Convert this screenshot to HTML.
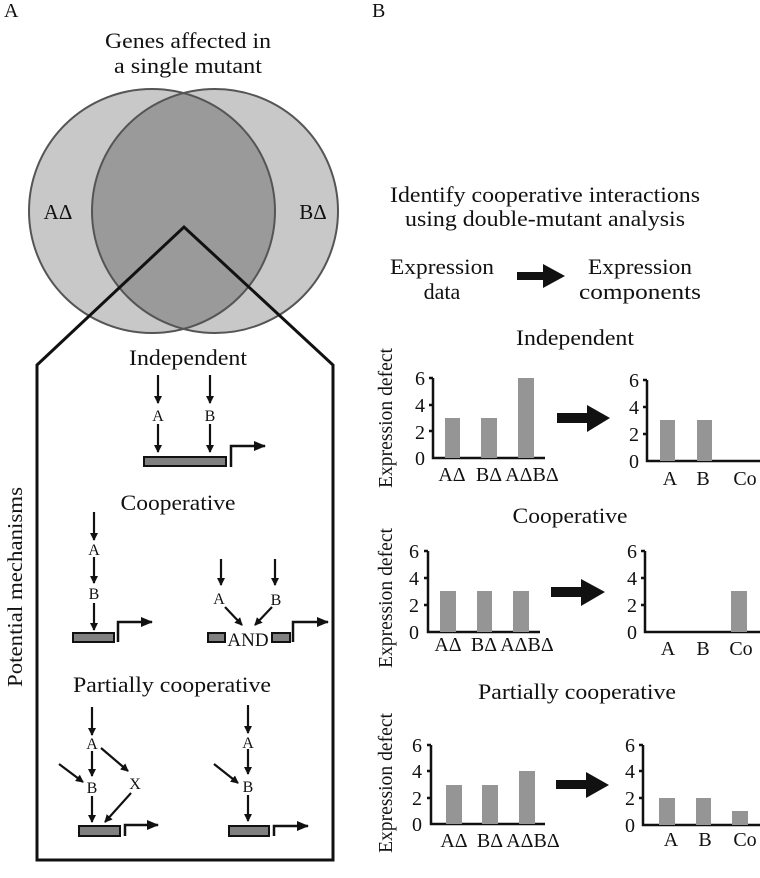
<!DOCTYPE html>
<html><head><meta charset="utf-8"><style>html,body{margin:0;padding:0;background:#fff}svg{display:block}</style></head><body>
<svg width="760" height="878" viewBox="0 0 760 878" xmlns="http://www.w3.org/2000/svg" font-family="'Liberation Serif', 'Times New Roman', 'DejaVu Serif', serif" fill="#111">
<defs>
<marker id="ah" markerWidth="8" markerHeight="8" refX="7" refY="4" orient="auto" markerUnits="userSpaceOnUse" viewBox="0 0 8 8"><path d="M0,0 L8,4 L0,8 Z" fill="#111"/></marker>
<marker id="ah2" markerWidth="12" markerHeight="10" refX="11" refY="5" orient="auto" markerUnits="userSpaceOnUse" viewBox="0 0 12 10"><path d="M0,0 L12,5 L0,10 Z" fill="#111"/></marker>
<clipPath id="cl"><ellipse cx="152" cy="211" rx="123" ry="122"/></clipPath>
</defs>
<style>text{font-family:"Liberation Serif","Times New Roman",serif;fill:#111}.a{stroke:#111;stroke-width:2.2;fill:none;marker-end:url(#ah)}.p{stroke:#111;stroke-width:2.5;fill:none;marker-end:url(#ah2)}.bar{fill:#808080;stroke:#111;stroke-width:2}.gb{fill:#959595}.ax{stroke:#111;stroke-width:2.5;fill:none}</style>
<text x="4" y="17" font-size="20">A</text>
<text x="372" y="17" font-size="20">B</text>
<text x="188" y="48" font-size="22" text-anchor="middle" textLength="166" lengthAdjust="spacingAndGlyphs">Genes affected in</text>
<text x="188" y="73" font-size="22" text-anchor="middle" textLength="148" lengthAdjust="spacingAndGlyphs">a single mutant</text>
<ellipse cx="152" cy="211" rx="123" ry="122" fill="#c8c8c8"/>
<ellipse cx="215" cy="211" rx="123" ry="122" fill="#c8c8c8"/>
<ellipse cx="215" cy="211" rx="123" ry="122" fill="#9a9a9a" clip-path="url(#cl)"/>
<ellipse cx="152" cy="211" rx="123" ry="122" fill="none" stroke="#555" stroke-width="2"/>
<ellipse cx="215" cy="211" rx="123" ry="122" fill="none" stroke="#555" stroke-width="2"/>
<text x="58" y="219" font-size="21" text-anchor="middle">AΔ</text>
<text x="313" y="219" font-size="21" text-anchor="middle">BΔ</text>
<path d="M37,365 L184,227 L333,365 L333,860 L37,860 Z" fill="none" stroke="#111" stroke-width="3"/>
<text transform="translate(22,587) rotate(-90)" font-size="21" text-anchor="middle" textLength="200" lengthAdjust="spacingAndGlyphs">Potential mechanisms</text>
<text x="188" y="365" font-size="22" text-anchor="middle" textLength="118" lengthAdjust="spacingAndGlyphs">Independent</text>
<line class="a" x1="158" y1="375" x2="158" y2="403"/><text x="158" y="421" font-size="16" text-anchor="middle">A</text>
<line class="a" x1="158" y1="424" x2="158" y2="452"/>
<line class="a" x1="210" y1="375" x2="210" y2="403"/><text x="210" y="421" font-size="16" text-anchor="middle">B</text>
<line class="a" x1="210" y1="424" x2="210" y2="452"/>
<rect class="bar" x="144" y="457" width="82" height="9"/>
<path class="p" d="M231,467 V446 H265"/>
<text x="178" y="510" font-size="22" text-anchor="middle" textLength="115" lengthAdjust="spacingAndGlyphs">Cooperative</text>
<line class="a" x1="94" y1="512" x2="94" y2="540"/><text x="94" y="555" font-size="16" text-anchor="middle">A</text>
<line class="a" x1="94" y1="557" x2="94" y2="583"/><text x="94" y="599" font-size="16" text-anchor="middle">B</text>
<line class="a" x1="94" y1="603" x2="94" y2="630"/>
<rect class="bar" x="73" y="633" width="41" height="9"/>
<path class="p" d="M118,642 V622 H152"/>
<line class="a" x1="221" y1="559" x2="221" y2="585"/><text x="219" y="604" font-size="16" text-anchor="middle">A</text>
<line class="a" x1="275" y1="559" x2="275" y2="585"/><text x="276" y="605" font-size="16" text-anchor="middle">B</text>
<line class="a" x1="225" y1="607" x2="242" y2="625"/>
<line class="a" x1="272" y1="607" x2="255" y2="625"/>
<rect class="bar" x="208" y="633" width="17" height="9"/>
<text x="248" y="646" font-size="19" text-anchor="middle">AND</text>
<rect class="bar" x="272" y="633" width="18" height="9"/>
<path class="p" d="M293,642 V622 H328"/>
<text x="172" y="692" font-size="22" text-anchor="middle" textLength="198" lengthAdjust="spacingAndGlyphs">Partially cooperative</text>
<line class="a" x1="92" y1="707" x2="92" y2="735"/><text x="92" y="749" font-size="16" text-anchor="middle">A</text>
<line class="a" x1="92" y1="751" x2="92" y2="776"/><text x="92" y="793" font-size="16" text-anchor="middle">B</text>
<line class="a" x1="92" y1="796" x2="92" y2="822"/>
<line class="a" x1="59" y1="764" x2="83" y2="782"/>
<line class="a" x1="101" y1="748" x2="128" y2="771"/>
<text x="135" y="789" font-size="16" text-anchor="middle">X</text>
<line class="a" x1="131" y1="793" x2="105" y2="822"/>
<rect class="bar" x="79" y="826" width="41" height="10"/>
<path class="p" d="M125,836 V825 H158"/>
<line class="a" x1="248" y1="705" x2="248" y2="733"/><text x="248" y="748" font-size="16" text-anchor="middle">A</text>
<line class="a" x1="248" y1="749" x2="248" y2="774"/><text x="248" y="792" font-size="16" text-anchor="middle">B</text>
<line class="a" x1="248" y1="795" x2="248" y2="821"/>
<line class="a" x1="214" y1="764" x2="238" y2="783"/>
<rect class="bar" x="229" y="826" width="40" height="10"/>
<path class="p" d="M274,836 V826 H308"/>
<text x="545" y="202" font-size="22" text-anchor="middle" textLength="310" lengthAdjust="spacingAndGlyphs">Identify cooperative interactions</text>
<text x="545" y="226" font-size="22" text-anchor="middle" textLength="280" lengthAdjust="spacingAndGlyphs">using double-mutant analysis</text>
<text x="442" y="274" font-size="22" text-anchor="middle" textLength="104" lengthAdjust="spacingAndGlyphs">Expression</text>
<text x="442" y="299" font-size="22" text-anchor="middle">data</text>
<text x="640" y="274" font-size="22" text-anchor="middle" textLength="104" lengthAdjust="spacingAndGlyphs">Expression</text>
<text x="640" y="299" font-size="22" text-anchor="middle" textLength="122" lengthAdjust="spacingAndGlyphs">components</text>
<path d="M517,272 H543 V264 L565,276 L543,288 V280 H517 Z" fill="#111"/>
<text x="575" y="345" font-size="22" text-anchor="middle" textLength="118" lengthAdjust="spacingAndGlyphs">Independent</text>
<text transform="translate(392,418) rotate(-90)" font-size="20" text-anchor="middle" textLength="140" lengthAdjust="spacingAndGlyphs">Expression defect</text>
<g font-size="20" text-anchor="middle">
<path class="ax" d="M433,378 V458 H545"/>
<path class="ax" d="M429,378 H433 M429,405 H433 M429,431 H433"/>
<text x="420" y="385">6</text><text x="420" y="412">4</text><text x="420" y="439">2</text><text x="420" y="465">0</text>
<rect class="gb" x="445" y="418" width="15" height="40"/><rect class="gb" x="481" y="418" width="16" height="40"/><rect class="gb" x="518" y="378" width="16" height="80"/>
<text x="452" y="481">AΔ</text><text x="489" y="481">BΔ</text><text x="532" y="481">AΔBΔ</text>
<path d="M557,413 H587 V405 L610,418 L587,432 V423 H557 Z" fill="#111"/>
<path class="ax" d="M647,380 V461 H760"/>
<path class="ax" d="M643,380 H647 M643,407 H647 M643,434 H647"/>
<text x="634" y="387">6</text><text x="634" y="414">4</text><text x="634" y="441">2</text><text x="634" y="468">0</text>
<rect class="gb" x="660" y="420" width="15" height="41"/><rect class="gb" x="697" y="420" width="15" height="41"/>
<text x="670" y="485">A</text><text x="703" y="485">B</text><text x="745" y="485">Co</text>
</g>
<text x="570" y="523" font-size="22" text-anchor="middle" textLength="115" lengthAdjust="spacingAndGlyphs">Cooperative</text>
<text transform="translate(392,598) rotate(-90)" font-size="20" text-anchor="middle" textLength="140" lengthAdjust="spacingAndGlyphs">Expression defect</text>
<g font-size="20" text-anchor="middle">
<path class="ax" d="M428,551 V632 H540"/>
<path class="ax" d="M424,551 H428 M424,578 H428 M424,605 H428"/>
<text x="414" y="558">6</text><text x="414" y="585">4</text><text x="414" y="612">2</text><text x="414" y="639">0</text>
<rect class="gb" x="440" y="591" width="16" height="41"/><rect class="gb" x="477" y="591" width="15" height="41"/><rect class="gb" x="513" y="591" width="16" height="41"/>
<text x="448" y="651">AΔ</text><text x="484" y="651">BΔ</text><text x="527" y="651">AΔBΔ</text>
<path d="M551,587 H581 V579 L605,592 L581,606 V597 H551 Z" fill="#111"/>
<path class="ax" d="M645,551 V632 H760"/>
<path class="ax" d="M641,551 H645 M641,578 H645 M641,605 H645"/>
<text x="632" y="558">6</text><text x="632" y="585">4</text><text x="632" y="612">2</text><text x="632" y="639">0</text>
<rect class="gb" x="731" y="591" width="16" height="41"/>
<text x="668" y="655">A</text><text x="703" y="655">B</text><text x="741" y="655">Co</text>
</g>
<text x="577" y="699" font-size="22" text-anchor="middle" textLength="198" lengthAdjust="spacingAndGlyphs">Partially cooperative</text>
<text transform="translate(392,783) rotate(-90)" font-size="20" text-anchor="middle" textLength="140" lengthAdjust="spacingAndGlyphs">Expression defect</text>
<g font-size="20" text-anchor="middle">
<path class="ax" d="M431,745 V824 H545"/>
<path class="ax" d="M427,745 H431 M427,771 H431 M427,798 H431"/>
<text x="417" y="752">6</text><text x="417" y="778">4</text><text x="417" y="805">2</text><text x="417" y="831">0</text>
<rect class="gb" x="446" y="785" width="16" height="39"/><rect class="gb" x="482" y="785" width="16" height="39"/><rect class="gb" x="519" y="771" width="16" height="53"/>
<text x="454" y="847">AΔ</text><text x="490" y="847">BΔ</text><text x="533" y="847">AΔBΔ</text>
<path d="M556,780 H586 V772 L609,785 L586,798 V789 H556 Z" fill="#111"/>
<path class="ax" d="M643,745 V825 H760"/>
<path class="ax" d="M639,745 H643 M639,771 H643 M639,798 H643"/>
<text x="630" y="752">6</text><text x="630" y="778">4</text><text x="630" y="805">2</text><text x="630" y="832">0</text>
<rect class="gb" x="659" y="798" width="16" height="27"/><rect class="gb" x="696" y="798" width="15" height="27"/><rect class="gb" x="732" y="811" width="16" height="14"/>
<text x="671" y="846">A</text><text x="705" y="846">B</text><text x="745" y="846">Co</text>
</g>
</svg>
</body></html>
